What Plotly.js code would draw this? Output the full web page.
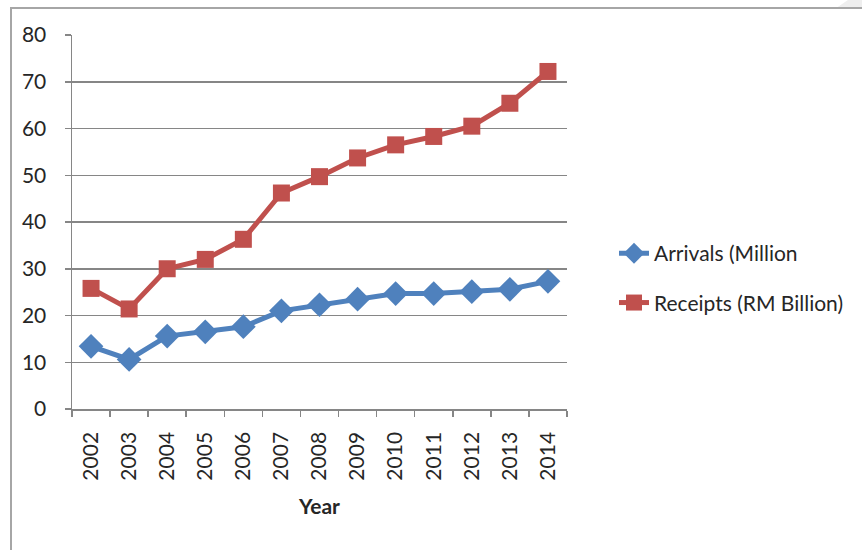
<!DOCTYPE html>
<html>
<head>
<meta charset="utf-8">
<script src="https://cdn.plot.ly/plotly-3.0.1.min.js"></script>
<style>
  html, body { margin: 0; padding: 0; background: #ffffff; }
  #wrap { position: relative; width: 862px; height: 550px; overflow: hidden; }
  #chart { position: absolute; left: 0; top: 0; width: 862px; height: 550px; }
  #frame { position: absolute; left: 10px; top: 7px; width: 860px; height: 560px;
           border-top: 2px solid #a6a6a6; border-left: 2px solid #a6a6a6; pointer-events: none; }
</style>
</head>
<body>
<div id="wrap">
  <div id="chart"></div>
  <div id="frame"></div>
</div>
<script>
const years = ["2002","2003","2004","2005","2006","2007","2008","2009","2010","2011","2012","2013","2014"];
const arrivals = [13.4, 10.6, 15.6, 16.5, 17.6, 21.0, 22.3, 23.5, 24.7, 24.7, 25.1, 25.6, 27.3];
const receipts = [25.8, 21.4, 30.0, 32.0, 36.3, 46.2, 49.7, 53.7, 56.5, 58.3, 60.5, 65.4, 72.2];
const seriesNames = ["Arrivals (Million", "Receipts (RM Billion)"];
const yTicks = [0, 10, 20, 30, 40, 50, 60, 70, 80];

const FONT = "Lato, 'Open Sans', 'Liberation Sans', sans-serif";
const blue = "#4f81bd";
const red = "#c0504d";

const traces = [
  {
    x: years, y: arrivals, name: seriesNames[0], type: "scatter", mode: "lines+markers",
    legendgroup: "a",
    line: { color: blue, width: 5 },
    marker: { symbol: "diamond", size: 19, color: blue }
  },
  {
    x: years, y: receipts, name: seriesNames[1], type: "scatter", mode: "lines+markers",
    legendgroup: "b",
    line: { color: red, width: 5 },
    marker: { symbol: "square", size: 17, color: red }
  }
];

const layout = {
  width: 862, height: 550,
  paper_bgcolor: "#ffffff", plot_bgcolor: "#ffffff",
  margin: { l: 72, r: 295, t: 35, b: 141, pad: 0 },
  font: { family: FONT, size: 21, color: "#262626" },
  showlegend: true,
  legend: {
    x: 1.095, xanchor: "left", y: 0.35, yanchor: "middle",
    font: { family: FONT, size: 21, color: "#262626" },
    traceorder: "grouped", tracegroupgap: 19, bgcolor: "rgba(0,0,0,0)"
  },
  xaxis: {
    type: "category",
    tickmode: "array", tickvals: years, ticktext: years,
    tickangle: -90,
    tickson: "boundaries",
    ticks: "outside", ticklen: 6, tickwidth: 1.5, tickcolor: "#868686",
    showline: true, linecolor: "#868686", linewidth: 1.5,
    showgrid: false, zeroline: false,
    ticklabelstandoff: 13,
    tickfont: { family: FONT, size: 21, color: "#262626" },
    title: { text: "<b>Year</b>", font: { family: FONT, size: 21, color: "#262626" }, standoff: 19 },
    range: [-0.5, 12.5]
  },
  yaxis: {
    range: [0, 80],
    tickmode: "array", tickvals: yTicks,
    ticks: "outside", ticklen: 6, tickwidth: 1.5, tickcolor: "#868686",
    showline: true, linecolor: "#868686", linewidth: 1.5,
    showgrid: true, gridcolor: "#868686", gridwidth: 1.5,
    zeroline: false,
    ticklabelstandoff: 14,
    tickfont: { family: FONT, size: 21, color: "#262626" }
  },
  shapes: [
    { type: "path", xref: "paper", yref: "paper",
      path: "M 1.547 1.075 L 1.597 1.12 L 1.597 1.075 Z",
      fillcolor: "#eeeeee", line: { width: 0 }, layer: "below" }
  ]
};

Plotly.newPlot("chart", traces, layout, { displayModeBar: false, staticPlot: true });
</script>
</body>
</html>
